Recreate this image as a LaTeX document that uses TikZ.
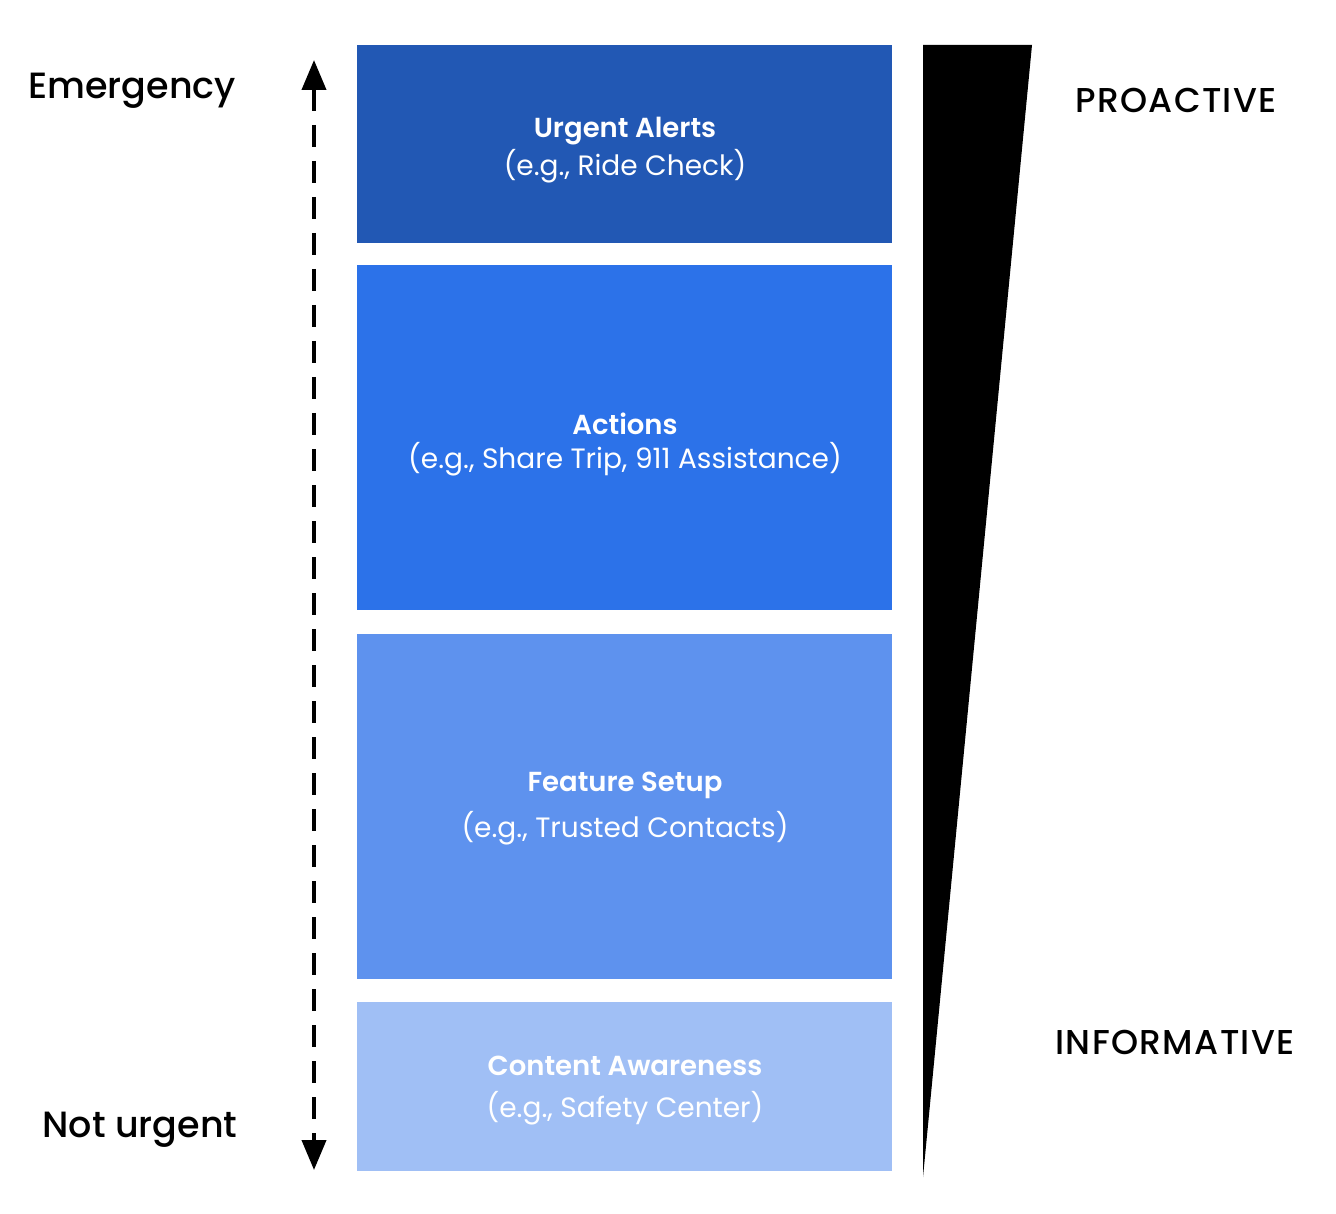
\documentclass[tikz,border=0pt]{standalone}
\usepackage{fontspec}
\setmainfont{Poppins}[BoldFont={Poppins SemiBold}]
\newfontfamily\medfont{Poppins Medium}
\newfontfamily\capfont{Poppins Medium}[LetterSpace=4]
\usetikzlibrary{arrows.meta}
\definecolor{cA}{RGB}{34,88,180}
\definecolor{cB}{RGB}{44,114,233}
\definecolor{cC}{RGB}{94,146,238}
\definecolor{cD}{RGB}{160,191,245}
\tikzset{
  ttl/.style={text=white, font=\bfseries\fontsize{27.5}{32}\selectfont},
  sub/.style={text=white, font=\fontsize{28}{32}\selectfont},
  side/.style={font=\medfont\fontsize{36.5}{42}\selectfont},
  caplabel/.style={font=\capfont\fontsize{34.5}{40}\selectfont},
}
\begin{document}
\begin{tikzpicture}[x=1pt,y=-1pt]
\useasboundingbox (0,0) rectangle (1336,1214);
\fill[cA] (357,45) rectangle (892,243);
\fill[cB] (357,265) rectangle (892,610);
\fill[cC] (357,634) rectangle (892,979);
\fill[cD] (357,1002) rectangle (892,1171);
\node[ttl] (t1) at (625,131) {Urgent Alerts};
\node[sub] (s1) at (625,166) {(e.g., Ride Check)};
\node[ttl] (t2) at (625,424) {Actions};
\node[sub] (s2) at (625,459) {(e.g., Share Trip, 911 Assistance)};
\node[ttl] (t3) at (625,785) {Feature Setup};
\node[sub] (s3) at (625,828) {(e.g., Trusted Contacts)};
\node[ttl] (t4) at (625,1066) {Content Awareness};
\node[sub] (s4) at (625,1108) {(e.g., Safety Center)};
\fill[black] (923,45) -- (1032,45) -- (923,1177) -- cycle;
\node[caplabel] (pro) at (1176,100) {PROACTIVE};
\node[caplabel] (inf) at (1175,1042) {INFORMATIVE};
\node[side] (em) at (132,91) {Emergency};
\node[side] (nu) at (140,1130) {Not urgent};
\coordinate (atop) at (314,60);
\coordinate (abot) at (314,1170);
\draw[line width=4pt, dash pattern=on 22pt off 14pt, {Triangle[width=24pt,length=30pt]}-{Triangle[width=24pt,length=30pt]}] (atop) -- (abot);
\end{tikzpicture}
\end{document}
